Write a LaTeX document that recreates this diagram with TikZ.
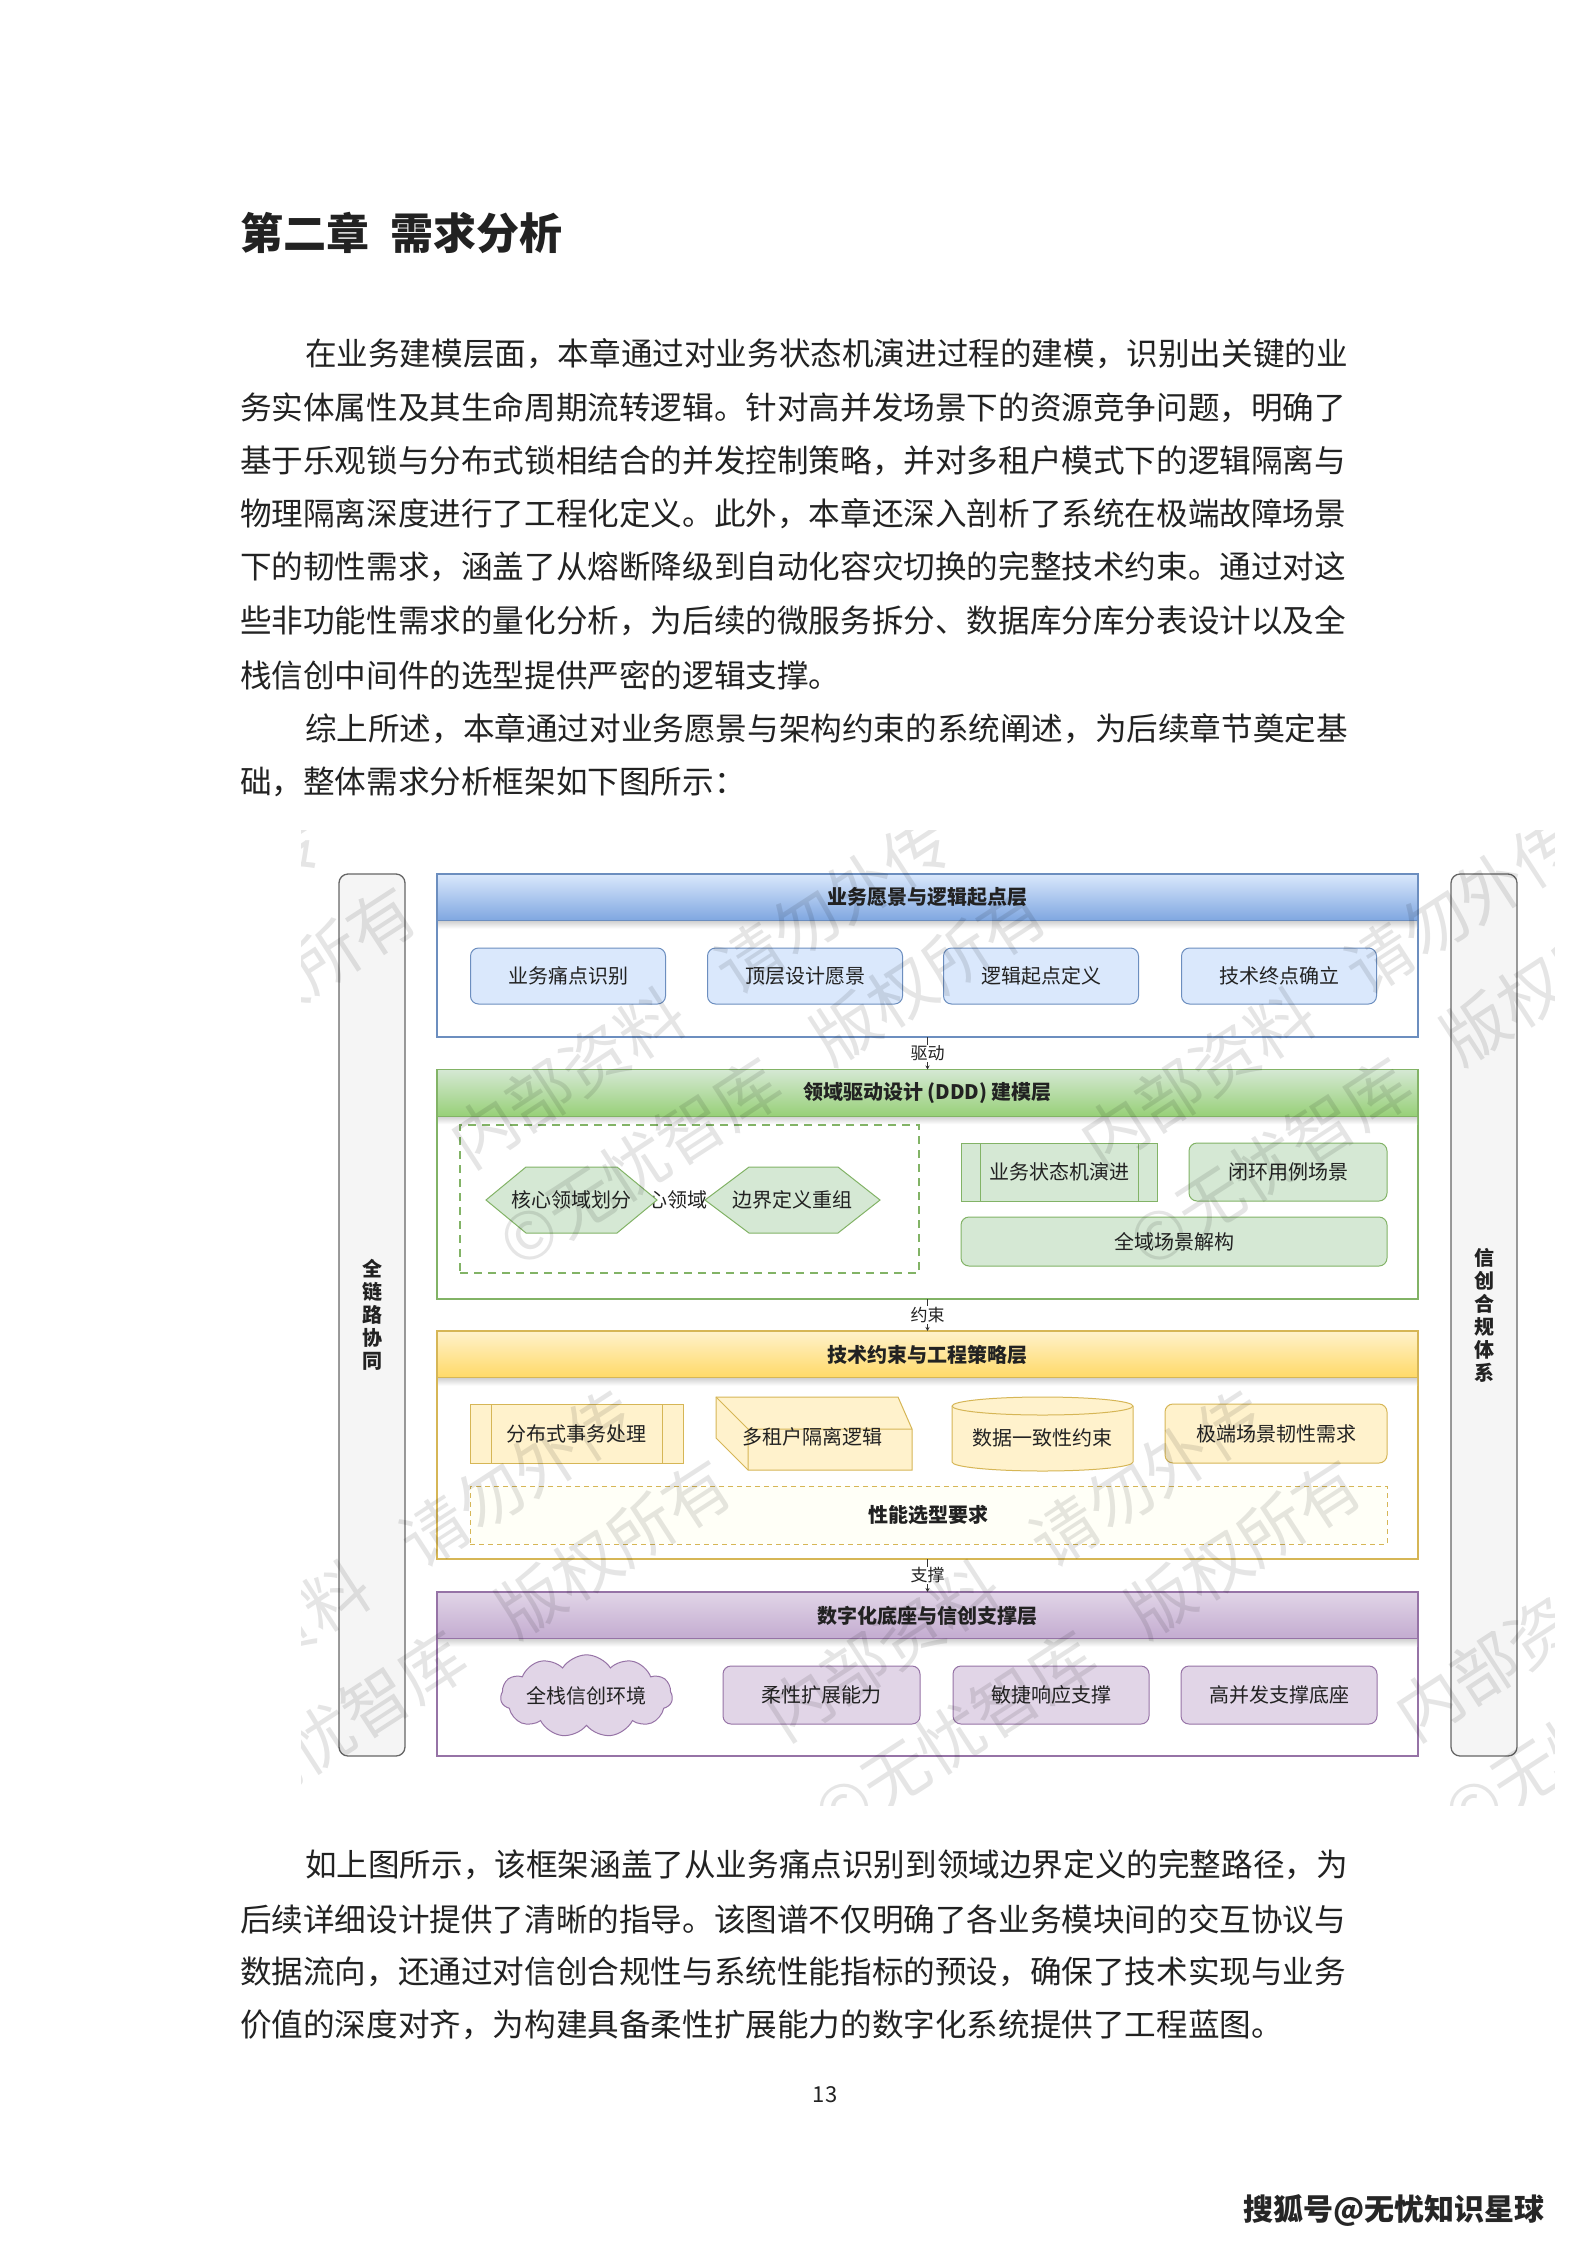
\documentclass[tikz,border=0pt]{standalone}
\usepackage{fontspec}
\setmainfont{Noto Sans CJK SC}
\usetikzlibrary{shapes.geometric,shapes.symbols,arrows.meta,calc}
\definecolor{bluefill}{HTML}{DAE8FC}\definecolor{bluedark}{HTML}{7EA6E0}\definecolor{blueline}{HTML}{6C8EBF}
\definecolor{greenfill}{HTML}{D5E8D4}\definecolor{greendark}{HTML}{97D077}\definecolor{greenline}{HTML}{82B366}
\definecolor{yellowfill}{HTML}{FFF2CC}\definecolor{yellowdark}{HTML}{FFD966}\definecolor{yellowline}{HTML}{D6B656}
\definecolor{purplefill}{HTML}{E1D5E7}\definecolor{purpledark}{HTML}{C3ABD0}\definecolor{purpleline}{HTML}{9673A6}
\definecolor{sidefill}{HTML}{F5F5F5}\definecolor{sideline}{HTML}{666666}
\definecolor{txt}{HTML}{222222}
\newcommand{\bodyfont}{\fontsize{31.6}{40}\selectfont}
\newcommand{\boxfont}{\fontsize{20}{24}\selectfont}
\begin{document}
\begin{tikzpicture}[x=1pt,y=-1pt,
  every node/.style={inner sep=0pt, outer sep=0pt, text=txt},
  bodyline/.style={anchor=west, font=\bodyfont},
  frame/.style={draw=#1, line width=1.2pt, fill=white},
  header/.style={draw=#1, line width=1.2pt, font=\boxfont\bfseries, minimum width=981, minimum height=47},
  sidebar/.style={draw=sideline, line width=1.3pt, fill=sidefill, rounded corners=9pt, minimum width=66, minimum height=882, align=center, font=\fontsize{20}{23}\selectfont\bfseries},
  rbox/.style={draw=#1line, fill=#1fill, line width=1pt, rounded corners=8pt, font=\boxfont},
  pbox/.style={draw=#1line, fill=#1fill, line width=1pt, font=\boxfont},
  conn/.style={draw=black!80, line width=0.9pt, -{Stealth[length=4pt,width=4pt]}},
  lbl/.style={fill=white, font=\fontsize{17}{20}\selectfont, inner sep=1pt},
  wm/.style={font=\fontsize{66}{70}\selectfont, text=black, text opacity=0.10, anchor=south west, rotate=33}
]
\useasboundingbox (0,0) rectangle (1587,2245);
\fill[white] (0,0) rectangle (1587,2245);

% ---------------- text above ----------------
\node[anchor=west, font=\fontsize{43}{50}\selectfont\bfseries] (title) at (240,233) {第二章\hspace{0.5em}需求分析};
\node[bodyline] (p1) at (240,354) {\hspace*{65pt}在业务建模层面，本章通过对业务状态机演进过程的建模，识别出关键的业};
\node[bodyline] (p2) at (240,408) {务实体属性及其生命周期流转逻辑。针对高并发场景下的资源竞争问题，明确了};
\node[bodyline] (p3) at (240,461) {基于乐观锁与分布式锁相结合的并发控制策略，并对多租户模式下的逻辑隔离与};
\node[bodyline] (p4) at (240,514) {物理隔离深度进行了工程化定义。此外，本章还深入剖析了系统在极端故障场景};
\node[bodyline] (p5) at (240,567) {下的韧性需求，涵盖了从熔断降级到自动化容灾切换的完整技术约束。通过对这};
\node[bodyline] (p6) at (240,621) {些非功能性需求的量化分析，为后续的微服务拆分、数据库分库分表设计以及全};
\node[bodyline] (p7) at (240,675) {栈信创中间件的选型提供严密的逻辑支撑。};
\node[bodyline] (p8) at (240,729) {\hspace*{65pt}综上所述，本章通过对业务愿景与架构约束的系统阐述，为后续章节奠定基};
\node[bodyline] (p9) at (240,782) {础，整体需求分析框架如下图所示：};

% ---------------- side bars ----------------
\node[sidebar] (SL) at (372,1315) {全\\链\\路\\协\\同};
\node[sidebar] (SR) at (1484,1315) {信\\创\\合\\规\\体\\系};

% ---------------- layer 1 ----------------
\node[frame=blueline, minimum width=981, minimum height=163] (L1) at (927.5,955.5) {};
\node[header=blueline, top color=bluefill, bottom color=bluedark] (L1h) at (927.5,897.5) {业务愿景与逻辑起点层};
\shade[top color=black!18, bottom color=white] (L1h.south west) ++(1,0.7) rectangle ++(979,7);
\node[rbox=blue, minimum width=195, minimum height=56] (b11) at (568,976) {业务痛点识别};
\node[rbox=blue, minimum width=195, minimum height=56] (b12) at (805,976) {顶层设计愿景};
\node[rbox=blue, minimum width=195, minimum height=56] (b13) at (1041,976) {逻辑起点定义};
\node[rbox=blue, minimum width=195, minimum height=56] (b14) at (1279,976) {技术终点确立};

% ---------------- layer 2 ----------------
\node[frame=greenline, minimum width=981, minimum height=229] (L2) at (927.5,1184.5) {};
\node[header=greenline, top color=greenfill, bottom color=greendark] (L2h) at (927.5,1093) {领域驱动设计 (DDD) 建模层};
\shade[top color=black!18, bottom color=white] (L2h.south west) ++(1,0.7) rectangle ++(979,7);
\node[draw=greenline, dashed, dash pattern=on 8pt off 6pt, line width=2.4pt, minimum width=459, minimum height=148] (dz) at (689.5,1199) {};
\node[font=\boxfont] (hl) at (667,1200) {核心领域};
\filldraw[draw=greenline, fill=greenfill, line width=1pt] (486,1200) -- (526,1167) -- (617,1167) -- (657,1200) -- (617,1233) -- (526,1233) -- cycle;
\node[font=\boxfont] (h1) at (571.5,1200) {核心领域划分};
\filldraw[draw=greenline, fill=greenfill, line width=1pt] (705,1200) -- (749,1167) -- (838,1167) -- (880,1200) -- (838,1233) -- (749,1233) -- cycle;
\node[font=\boxfont] (h2) at (792.5,1200) {边界定义重组};
\node[pbox=green, minimum width=196, minimum height=58] (b21) at (1059,1172) {业务状态机演进};
\draw[greenline, line width=1pt] ($(b21.north west)+(19,0)$) -- ($(b21.south west)+(19,0)$);
\draw[greenline, line width=1pt] ($(b21.north east)+(-19,0)$) -- ($(b21.south east)+(-19,0)$);
\node[rbox=green, minimum width=198, minimum height=58] (b22) at (1288,1172) {闭环用例场景};
\node[rbox=green, minimum width=426, minimum height=49] (b23) at (1174,1241.5) {全域场景解构};

% ---------------- layer 3 ----------------
\node[frame=yellowline, minimum width=981, minimum height=227] (L3) at (927.5,1445.5) {};
\node[header=yellowline, top color=yellowfill, bottom color=yellowdark] (L3h) at (927.5,1354.5) {技术约束与工程策略层};
\shade[top color=black!18, bottom color=white] (L3h.south west) ++(1,0.7) rectangle ++(979,7);
\node[pbox=yellow, minimum width=213, minimum height=59] (b31) at (576.5,1433.5) {分布式事务处理};
\draw[yellowline, line width=1pt] ($(b31.north west)+(21,0)$) -- ($(b31.south west)+(21,0)$);
\draw[yellowline, line width=1pt] ($(b31.north east)+(-21,0)$) -- ($(b31.south east)+(-21,0)$);
% cube
\filldraw[draw=yellowline, fill=yellowfill, line width=1pt] (716,1397) -- (898,1397) -- (912,1429) -- (912,1470) -- (748,1470) -- (716,1438) -- cycle;
\draw[yellowline, line width=1pt] (716,1397) -- (748,1429) -- (912,1429) (748,1429) -- (748,1470);
\node[font=\boxfont] (b32) at (812,1437) {多租户隔离逻辑};
% cylinder
\filldraw[draw=yellowline, fill=yellowfill, line width=1pt] (952,1406) -- (952,1462) arc[start angle=180, end angle=0, x radius=90.5, y radius=9] -- (1133,1406) arc[start angle=0, end angle=-180, x radius=90.5, y radius=9] -- cycle;
\draw[yellowline, line width=1pt] (952,1406) arc[start angle=180, end angle=0, x radius=90.5, y radius=9];
\node[font=\boxfont] (b33) at (1042.5,1438) {数据一致性约束};
\node[rbox=yellow, minimum width=222, minimum height=59] (b34) at (1276,1433.5) {极端场景韧性需求};
\node[draw=yellowline, dashed, dash pattern=on 5pt off 4pt, line width=1pt, fill=yellow!3, minimum width=917, minimum height=58, font=\boxfont\bfseries] (b35) at (928.5,1515) {性能选型要求};

% ---------------- layer 4 ----------------
\node[frame=purpleline, minimum width=981, minimum height=164] (L4) at (927.5,1674) {};
\node[header=purpleline, top color=purplefill, bottom color=purpledark] (L4h) at (927.5,1615.5) {数字化底座与信创支撑层};
\shade[top color=black!18, bottom color=white] (L4h.south west) ++(1,0.7) rectangle ++(979,7);
\node[cloud, cloud puffs=11, cloud puff arc=115, aspect=2.9, draw=purpleline, fill=purplefill, line width=1pt, minimum width=172, minimum height=60, font=\boxfont] (b41) at (586.5,1696) {全栈信创环境};
\node[rbox=purple, minimum width=197, minimum height=58] (b42) at (821.5,1695) {柔性扩展能力};
\node[rbox=purple, minimum width=196, minimum height=58] (b43) at (1051,1695) {敏捷响应支撑};
\node[rbox=purple, minimum width=196, minimum height=58] (b44) at (1279,1695) {高并发支撑底座};

% ---------------- connectors ----------------
\draw[conn] (L1.south) -- node[lbl]{驱动} (L2h.north);
\draw[conn] (L2.south) -- node[lbl]{约束} (L3h.north);
\draw[conn] (L3.south) -- node[lbl]{支撑} (L4h.north);

% ---------------- watermarks ----------------
\begin{scope}
\clip (301,830) rectangle (1554,1805);
\foreach \px/\py in {158/602, 788/602, 1418/602, -157/1175, 473/1175, 1103/1175, 158/1748, 788/1748, 1418/1748} {
  \node[wm] at (\px,\py) {内部资料\hspace{0.8em}请勿外传};
  \node[wm] at (\px+50,\py+100) {©无忧智库\hspace{0.8em}版权所有};
}
\end{scope}

% ---------------- text below ----------------
\node[bodyline] (q1) at (240,1865) {\hspace*{65pt}如上图所示，该框架涵盖了从业务痛点识别到领域边界定义的完整路径，为};
\node[bodyline] (q2) at (240,1919) {后续详细设计提供了清晰的指导。该图谱不仅明确了各业务模块间的交互协议与};
\node[bodyline] (q3) at (240,1972) {数据流向，还通过对信创合规性与系统性能指标的预设，确保了技术实现与业务};
\node[bodyline] (q4) at (240,2025) {价值的深度对齐，为构建具备柔性扩展能力的数字化系统提供了工程蓝图。};
\node[font=\fontsize{22}{24}\selectfont] (pg) at (825,2095) {13};
\node[font=\fontsize{30}{34}\selectfont\bfseries, text=black!85] (sohu) at (1394,2210) {搜狐号@无忧知识星球};
\end{tikzpicture}
\end{document}
